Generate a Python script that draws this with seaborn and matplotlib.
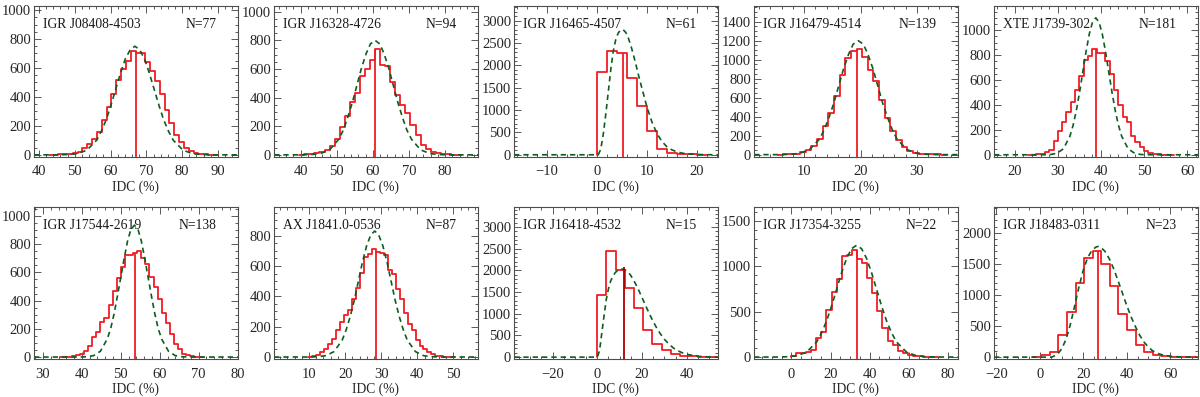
import numpy as np
import matplotlib
matplotlib.use("Agg")
import matplotlib.pyplot as plt
import seaborn as sns
from matplotlib.ticker import MultipleLocator, AutoMinorLocator

# ---------------- data ----------------
NAMES = ["IGR J08408-4503", "IGR J16328-4726", "IGR J16465-4507", "IGR J16479-4514", "XTE J1739-302",
         "IGR J17544-2619", "AX J1841.0-0536", "IGR J16418-4532", "IGR J17354-3255", "IGR J18483-0311"]
N_LABELS = ["N=77", "N=94", "N=61", "N=139", "N=181", "N=138", "N=87", "N=15", "N=22", "N=23"]
X_LABEL = "IDC (%)"

# histogram: first bin edge, bin width, counts per bin
HIST_START = [42.7, 39.6, 0.0, 5.3, 23.0, 34.25, 9.8, 0.0, -0.3, -3.3]
HIST_WIDTH = [1.35, 1.4, 2.0, 1.0, 1.0, 1.05, 1.1, 4.1, 2.6, 3.95]
COUNTS_1 = [1, 2, 3, 5, 8, 12, 22, 45, 75, 110, 160, 240, 330, 420, 520, 590, 650, 720, 700, 705,
            640, 580, 510, 420, 310, 220, 140, 90, 50, 25, 12, 8, 4, 2, 1]
COUNTS_2 = [1, 3, 5, 10, 18, 35, 65, 110, 195, 270, 370, 430, 550, 600, 660, 740, 630, 620, 510, 420,
            350, 290, 210, 140, 70, 40, 20, 10, 5, 3, 2, 1]
COUNTS_3 = [1850, 2330, 2280, 1720, 1100, 530, 130, 40, 15, 8, 3]
COUNTS_4 = [1, 2, 4, 10, 25, 50, 90, 160, 300, 440, 620, 840, 1020, 1090, 1110, 1030, 890, 780, 570,
            390, 250, 150, 80, 40, 20, 10, 6, 3, 2, 1]
COUNTS_5 = [1, 2, 3, 5, 20, 40, 110, 190, 260, 340, 420, 520, 630, 760, 790, 850, 820, 820, 750, 650,
            520, 400, 300, 260, 150, 100, 60, 30, 12, 6, 4, 2, 1, 1]
COUNTS_6 = [1, 2, 3, 6, 12, 25, 40, 80, 140, 180, 250, 280, 370, 470, 560, 640, 720, 720, 735, 750,
            700, 660, 570, 500, 410, 310, 240, 160, 90, 60, 25, 12, 5, 3, 1]
COUNTS_7 = [3, 7, 13, 30, 50, 85, 120, 175, 230, 275, 310, 380, 455, 555, 660, 680, 710, 690, 685, 670,
            570, 545, 445, 380, 290, 220, 175, 110, 75, 50, 30, 18, 10, 6, 3, 2, 1]
COUNTS_8 = [1430, 2440, 2000, 1590, 1130, 630, 300, 165, 70, 35, 15, 8, 4]
COUNTS_9 = [15, 40, 45, 55, 80, 210, 280, 520, 720, 860, 1110, 1120, 1180, 1080, 1030, 870, 700, 510,
            320, 180, 130, 65, 45, 20, 10, 6, 3, 2, 1]
COUNTS_10 = [10, 30, 75, 350, 720, 1200, 1590, 1710, 1500, 1140, 700, 440, 200, 90, 40, 12, 6, 3, 1]

# vertical marker (position, height)
MARK_X = [67.0, 60.7, 5.2, 19.4, 38.95, 53.7, 28.45, 11.8, 33.5, 26.6]
MARK_H = [720, 740, 2280, 1110, 850, 735, 700, 2080, 1180, 1710]

# dashed model curves
FIT_X_1 = [38.6, 45.4, 48.1, 50.75, 53.4, 56.1, 57.4, 58.8, 60.1, 61.45, 62.8, 64.1, 65.5, 66.8, 68.1,
           69.5, 70.8, 72.15, 73.5, 74.8, 76.2, 77.5, 80.2, 82.85, 85.5, 88.2, 95.6]
FIT_Y_1 = [0, 0, 2, 8, 33, 101, 162, 244, 343, 455, 566, 662, 727, 750, 727, 662, 566, 455, 343, 244,
           162, 101, 33, 8, 2, 0, 0]
FIT_X_2 = [32.6, 40.4, 42.9, 45.45, 48.0, 50.5, 51.8, 53.0, 54.3, 55.55, 56.8, 58.1, 59.3, 60.6, 61.9,
           63.1, 64.4, 65.65, 66.9, 68.2, 69.4, 70.7, 73.2, 75.75, 78.3, 80.8, 89.1]
FIT_Y_2 = [0, 0, 2, 9, 35, 108, 173, 260, 366, 485, 604, 706, 775, 800, 775, 706, 604, 485, 366, 260,
           173, 108, 35, 9, 2, 0, 0]
FIT_X_3 = [-16.5, 0.3, 0.8, 1.3, 1.8, 2.3, 2.8, 3.3, 3.8, 4.3, 4.8, 5.3, 5.8, 6.3, 6.8, 7.3, 7.8, 8.3,
           9.0, 10.0, 11.0, 12.0, 13.0, 14.0, 15.0, 16.0, 17.0, 18.0, 20.0, 22.0, 24.2]
FIT_Y_3 = [0, 0, 120, 450, 900, 1400, 1900, 2320, 2580, 2730, 2800, 2800, 2740, 2620, 2450, 2250, 2030,
           1800, 1500, 1080, 740, 480, 300, 180, 110, 65, 38, 22, 7, 2, 0]
FIT_X_4 = [1.1, 5.76, 7.5, 9.2, 10.95, 12.7, 13.55, 14.4, 15.3, 16.15, 17.0, 17.9, 18.7, 19.6, 20.5,
           21.3, 22.2, 23.05, 23.9, 24.8, 25.65, 26.5, 28.25, 30.0, 31.7, 33.4, 37.3]
FIT_Y_4 = [0, 0, 3, 13, 53, 162, 260, 390, 549, 728, 906, 1059, 1163, 1200, 1163, 1059, 906, 728, 549,
           390, 260, 162, 53, 13, 3, 0, 0]
FIT_X_5 = [15.2, 26.8, 28.3, 29.8, 31.3, 32.8, 33.55, 34.3, 35.05, 35.8, 36.55, 37.3, 38.05, 38.8,
           39.55, 40.3, 41.05, 41.8, 42.55, 43.3, 44.05, 44.8, 46.3, 47.8, 49.3, 50.8, 62.5]
FIT_Y_5 = [0, 0, 2, 12, 48, 149, 238, 357, 504, 667, 830, 971, 1066, 1100, 1066, 971, 830, 667, 504,
           357, 238, 149, 48, 12, 2, 0, 0]
FIT_X_6 = [27.7, 39.5, 41.25, 43.0, 44.75, 46.5, 47.4, 48.25, 49.1, 50.0, 50.9, 51.75, 52.6, 53.5,
           54.4, 55.25, 56.1, 57.0, 57.9, 58.75, 59.6, 60.5, 62.25, 64.0, 65.75, 67.5, 80.1]
FIT_Y_6 = [0, 0, 2, 10, 41, 127, 202, 304, 428, 567, 706, 825, 906, 935, 906, 825, 706, 567, 428, 304,
           202, 127, 41, 10, 2, 0, 0]
FIT_X_7 = [0.3, 10.2, 12.45, 14.7, 16.95, 19.2, 20.3, 21.45, 22.6, 23.7, 24.8, 25.95, 27.1, 28.2, 29.3,
           30.45, 31.6, 32.7, 33.8, 34.95, 36.1, 37.2, 39.45, 41.7, 43.95, 46.2, 56.8]
FIT_Y_7 = [0, 0, 2, 9, 36, 112, 180, 270, 380, 503, 626, 732, 804, 830, 804, 732, 626, 503, 380, 270,
           180, 112, 36, 9, 2, 0, 0]
FIT_X_8 = [-37.2, 0, 1, 2, 3, 4, 5, 6, 7, 8, 9, 10, 11, 12, 13, 14, 15, 16, 17, 18, 20, 22, 24, 26, 28,
           30, 32, 34, 36, 38, 40, 43, 46, 50, 53.9]
FIT_Y_8 = [0, 0, 150, 550, 950, 1330, 1580, 1760, 1870, 1950, 1995, 2020, 2030, 2020, 1990, 1950, 1880,
           1790, 1700, 1600, 1370, 1140, 920, 720, 550, 410, 300, 210, 145, 100, 65, 35, 15, 5, 1]
FIT_X_9 = [-19.1, -7.5, -2.4, 2.7, 7.8, 12.9, 15.45, 18.0, 20.55, 23.1, 25.65, 28.2, 30.75, 33.3, 35.85,
           38.4, 40.95, 43.5, 46.05, 48.6, 51.15, 53.7, 58.8, 63.9, 69.0, 74.1, 85.1]
FIT_Y_9 = [0, 0, 3, 14, 54, 166, 266, 399, 563, 746, 928, 1085, 1192, 1230, 1192, 1085, 928, 746, 563,
           399, 266, 166, 54, 14, 3, 0, 0]
FIT_X_10 = [-21.1, 5.5, 8, 10, 12, 14, 16, 18, 20, 22, 24, 26, 27, 28, 30, 32, 34, 36, 38, 40, 42, 44,
            46, 48, 50, 52, 55, 58, 62, 66, 72.8]
FIT_Y_10 = [0, 0, 40, 130, 280, 520, 820, 1130, 1400, 1600, 1720, 1775, 1780, 1770, 1700, 1580, 1420,
            1230, 1030, 830, 650, 490, 350, 240, 160, 100, 50, 22, 8, 3, 0]

# axis ranges and tick steps
XLIMS = [(38.6, 95.6), (32.6, 89.1), (-16.5, 24.2), (1.1, 37.3), (15.2, 62.5),
         (27.7, 80.1), (0.3, 56.8), (-37.2, 53.9), (-19.1, 85.1), (-21.1, 72.8)]
YLIMS = [(-15, 1028), (-15, 1040), (-50, 3333), (-25, 1565), (-18, 1195),
         (-16, 1066), (-15, 990), (-50, 3470), (-25, 1654), (-35, 2420)]
XSTEP = [10, 10, 10, 10, 10, 10, 10, 20, 20, 20]
YSTEP = [200, 200, 500, 200, 200, 200, 200, 500, 500, 500]

COUNTS = [COUNTS_1, COUNTS_2, COUNTS_3, COUNTS_4, COUNTS_5, COUNTS_6, COUNTS_7, COUNTS_8, COUNTS_9, COUNTS_10]
FIT_X = [FIT_X_1, FIT_X_2, FIT_X_3, FIT_X_4, FIT_X_5, FIT_X_6, FIT_X_7, FIT_X_8, FIT_X_9, FIT_X_10]
FIT_Y = [FIT_Y_1, FIT_Y_2, FIT_Y_3, FIT_Y_4, FIT_Y_5, FIT_Y_6, FIT_Y_7, FIT_Y_8, FIT_Y_9, FIT_Y_10]

# ---------------- style ----------------
sns.set_theme(style="ticks")
plt.rcParams['font.family'] = ['Liberation Serif', 'DejaVu Serif']
plt.rcParams['axes.unicode_minus'] = True

RED = "#f01c24"
GREEN = "#0b5e1f"
FS = 9.8
TICK_FS = 10.5

fig = plt.figure(figsize=(12, 3.97), dpi=100)
W, H = 1200.0, 397.0
col_left = [34, 274, 514, 754, 994]
row_box = [(6.0, 157.0), (206.7, 359.3)]   # (top, bottom) in pixels

for i in range(10):
    r, c = divmod(i, 5)
    top, bot = row_box[r]
    ax = fig.add_axes([col_left[c] / W, 1 - bot / H, 204 / W, (bot - top) / H])

    counts = np.asarray(COUNTS[i], dtype=float)
    edges = HIST_START[i] + HIST_WIDTH[i] * np.arange(len(counts) + 1)
    xs = np.concatenate([[edges[0]], edges])
    ys = np.concatenate([[0.0], counts, [0.0]])
    sns.lineplot(x=xs, y=ys, estimator=None, sort=False, drawstyle="steps-post",
                 color=RED, lw=1.3, ax=ax)
    sns.lineplot(x=FIT_X[i], y=FIT_Y[i], estimator=None, sort=False, color=GREEN,
                 lw=1.2, linestyle=(0, (3.2, 2.4)), ax=ax)
    vcol = "#a80000" if i == 7 else RED
    ax.vlines(MARK_X[i], YLIMS[i][0], MARK_H[i], color=vcol, lw=1.3)

    ax.set_xlim(*XLIMS[i])
    ax.set_ylim(*YLIMS[i])
    ax.xaxis.set_major_locator(MultipleLocator(XSTEP[i]))
    ax.yaxis.set_major_locator(MultipleLocator(YSTEP[i]))
    ax.xaxis.set_minor_locator(AutoMinorLocator())
    ax.yaxis.set_minor_locator(AutoMinorLocator())
    ax.tick_params(which="both", direction="in", top=True, right=True,
                   color="0.25", width=0.6, labelsize=TICK_FS, labelcolor="0.15")
    ax.tick_params(which="major", length=5)
    ax.tick_params(which="minor", length=2.5)
    ax.tick_params(axis="x", pad=6)
    ax.tick_params(axis="y", pad=2)
    for sp in ax.spines.values():
        sp.set_linewidth(0.8)
        sp.set_color("0.3")
    ax.set_xlabel(X_LABEL, fontsize=FS, labelpad=1.5, color="0.15")
    ax.set_ylabel("")

    ax.text(0.044, 0.875, NAMES[i], transform=ax.transAxes, ha="left", va="center",
            fontsize=FS, color="0.1")
    ax.text(0.895, 0.875, N_LABELS[i], transform=ax.transAxes, ha="right", va="center",
            fontsize=FS, color="0.1")

fig.savefig("out.png", dpi=100)
